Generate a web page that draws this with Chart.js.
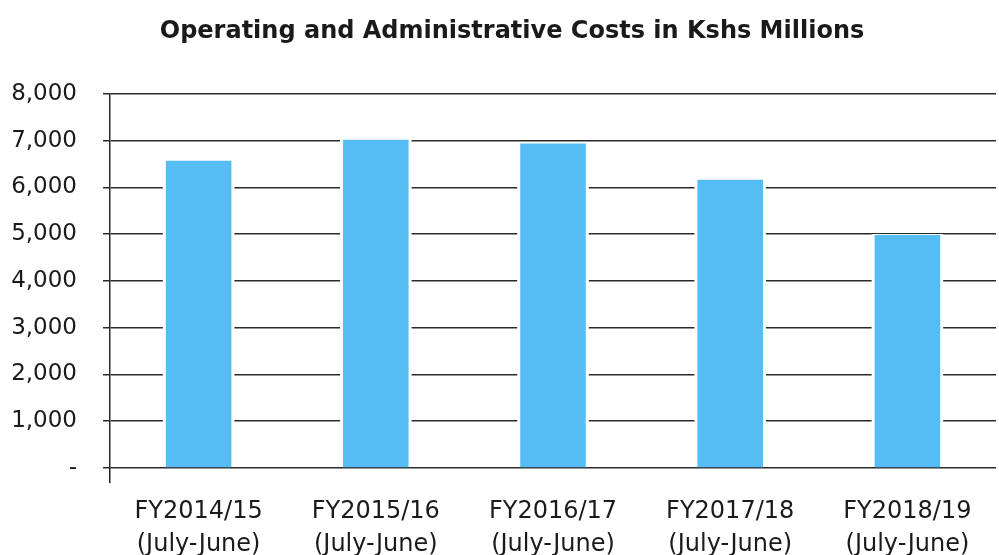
<!DOCTYPE html>
<html>
<head>
<meta charset="utf-8">
<script src="https://cdn.jsdelivr.net/npm/chart.js@4"></script>
<style>
  html, body { margin: 0; padding: 0; background: #ffffff; }
  #wrap { width: 999px; height: 555px; position: relative; }
</style>
</head>
<body>
<div id="wrap"><canvas id="c" width="999" height="555"></canvas></div>
<script>
const titleText = "Operating and Administrative Costs in Kshs Millions";
const categories = [
  ["FY2014/15", "(July-June)"],
  ["FY2015/16", "(July-June)"],
  ["FY2016/17", "(July-June)"],
  ["FY2017/18", "(July-June)"],
  ["FY2018/19", "(July-June)"]
];
const costs = [6570, 7020, 6940, 6160, 4980];
const yTicks = [0, 1000, 2000, 3000, 4000, 5000, 6000, 7000, 8000];
const yTickLabels = ["-", "1,000", "2,000", "3,000", "4,000", "5,000", "6,000", "7,000", "8,000"];

const FONT = "'DejaVu Sans', 'Verdana', sans-serif";

// white gap around bars where gridlines meet them
const barGap = {
  id: 'barGap',
  beforeDatasetsDraw(chart) {
    const ctx = chart.ctx;
    const meta = chart.getDatasetMeta(0);
    ctx.save();
    ctx.fillStyle = '#ffffff';
    meta.data.forEach(el => {
      const p = el.getProps(['x', 'y', 'base', 'width'], true);
      ctx.fillRect(p.x - p.width / 2 - 3, p.y - 1, p.width + 6, p.base - p.y - 1);
    });
    ctx.restore();
  }
};

// shift the title's horizontal span so it is centred slightly right, as in the original
const titleShift = {
  id: 'titleShift',
  afterLayout(chart) {
    if (chart.titleBlock) { chart.titleBlock.left += 28; }
  }
};

new Chart(document.getElementById('c'), {
  type: 'bar',
  data: {
    labels: categories,
    datasets: [{
      data: costs,
      backgroundColor: '#56bdf4',
      borderWidth: 0,
      categoryPercentage: 1.0,
      barPercentage: 0.37
    }]
  },
  options: {
    responsive: false,
    animation: false,
    devicePixelRatio: 1,
    layout: { padding: { left: 0, right: 3, top: 0, bottom: 0 } },
    plugins: {
      legend: { display: false },
      tooltip: { enabled: false },
      title: {
        display: true,
        text: titleText,
        color: '#1a1a1a',
        font: { family: FONT, size: 24, weight: 'bold', lineHeight: 1.2 },
        padding: { top: 17, bottom: 48 }
      }
    },
    scales: {
      x: {
        offset: true,
        grid: {
          offset: true,
          drawOnChartArea: false,
          drawTicks: true,
          tickLength: 15,
          color: (ctx) => (ctx.index === 0 ? '#222222' : 'rgba(0,0,0,0)'),
          lineWidth: 1.5
        },
        border: { display: false },
        ticks: {
          color: '#1a1a1a',
          font: { family: FONT, size: 24, lineHeight: 1.38 },
          padding: 12,
          maxRotation: 0,
          autoSkip: false
        },
        afterFit(scale) { scale.height = 87; }
      },
      y: {
        min: 0,
        max: 8000,
        afterBuildTicks(scale) {
          scale.ticks = yTicks.map(v => ({ value: v }));
        },
        grid: {
          color: '#2a2a2a',
          lineWidth: 1.5,
          drawTicks: true,
          tickLength: 7
        },
        border: { display: true, color: '#2a2a2a', width: 1.5 },
        ticks: {
          color: '#1a1a1a',
          font: { family: FONT, size: 23 },
          padding: 26,
          callback: (value, index) => yTickLabels[index]
        },
        afterFit(scale) { scale.width = 110; }
      }
    }
  },
  plugins: [barGap, titleShift]
});
</script>
</body>
</html>
